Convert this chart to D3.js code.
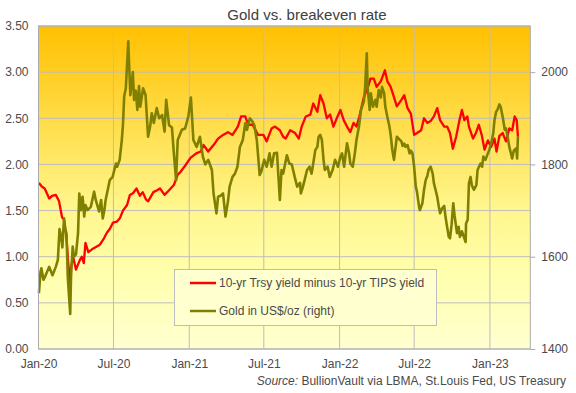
<!DOCTYPE html>
<html><head><meta charset="utf-8">
<script src="https://cdn.jsdelivr.net/npm/d3@7"></script>
<style>
body{margin:0;background:#fff;}
svg{display:block;font-family:"Liberation Sans",Arial,sans-serif;}
</style></head>
<body><svg id="c" width="576" height="393"></svg>
<script>
const title = "Gold vs. breakeven rate";
const leftTicks = [0,0.5,1,1.5,2,2.5,3,3.5];
const rightTicks = [1400,1600,1800,2000];
const xTickLabels = ["2020-01-01","2020-07-01","2021-01-01","2021-07-01","2022-01-01","2022-07-01","2023-01-01"];
const xDomain = ["2020-01-01","2023-04-09"];
const seriesNames = ["10-yr Trsy yield minus 10-yr TIPS yield","Gold in US$/oz (right)"];

const breakeven = [
["2020-01-02",1.80],["2020-01-09",1.76],["2020-01-16",1.74],["2020-01-21",1.69],["2020-01-27",1.63],
["2020-02-03",1.66],["2020-02-12",1.67],["2020-02-20",1.60],["2020-02-27",1.43],["2020-03-03",1.40],
["2020-03-09",1.20],["2020-03-13",0.95],["2020-03-17",0.69],["2020-03-20",0.89],["2020-03-25",1.00],
["2020-04-01",0.86],["2020-04-10",0.96],["2020-04-15",1.00],["2020-04-20",0.93],["2020-04-24",1.15],
["2020-05-01",1.05],["2020-05-13",1.09],["2020-05-29",1.13],["2020-06-08",1.20],["2020-06-15",1.26],
["2020-06-22",1.30],["2020-06-30",1.37],["2020-07-09",1.38],["2020-07-17",1.42],["2020-07-24",1.50],
["2020-08-03",1.56],["2020-08-10",1.67],["2020-08-18",1.69],["2020-08-26",1.74],["2020-09-03",1.66],
["2020-09-10",1.70],["2020-09-18",1.62],["2020-09-23",1.60],["2020-10-06",1.70],["2020-10-15",1.72],
["2020-10-22",1.74],["2020-11-02",1.67],["2020-11-13",1.72],["2020-11-25",1.78],["2020-12-04",1.89],
["2020-12-11",1.92],["2020-12-21",1.98],["2021-01-04",2.07],["2021-01-18",2.12],["2021-01-29",2.14],
["2021-02-05",2.21],["2021-02-16",2.14],["2021-03-01",2.21],["2021-03-12",2.28],["2021-03-24",2.32],
["2021-04-05",2.35],["2021-04-16",2.32],["2021-04-29",2.41],["2021-05-07",2.52],["2021-05-17",2.52],
["2021-05-24",2.43],["2021-06-04",2.43],["2021-06-17",2.32],["2021-06-30",2.32],["2021-07-08",2.25],
["2021-07-20",2.39],["2021-07-28",2.41],["2021-08-09",2.37],["2021-08-17",2.30],["2021-08-23",2.28],
["2021-09-03",2.37],["2021-09-15",2.34],["2021-09-24",2.28],["2021-10-01",2.41],["2021-10-11",2.52],
["2021-10-22",2.54],["2021-10-29",2.66],["2021-11-08",2.57],["2021-11-15",2.75],["2021-11-23",2.66],
["2021-12-01",2.50],["2021-12-09",2.54],["2021-12-17",2.41],["2021-12-27",2.52],["2022-01-03",2.59],
["2022-01-11",2.48],["2022-01-19",2.41],["2022-01-27",2.35],["2022-02-04",2.45],["2022-02-11",2.41],
["2022-02-18",2.52],["2022-03-01",2.73],["2022-03-11",2.84],["2022-03-17",2.93],["2022-03-25",2.93],
["2022-04-01",2.84],["2022-04-11",2.90],["2022-04-21",3.02],["2022-04-27",2.90],["2022-05-05",2.84],
["2022-05-13",2.73],["2022-05-20",2.63],["2022-05-31",2.70],["2022-06-07",2.75],["2022-06-15",2.61],
["2022-06-23",2.55],["2022-07-01",2.32],["2022-07-08",2.34],["2022-07-18",2.37],["2022-07-25",2.50],
["2022-08-02",2.45],["2022-08-10",2.47],["2022-08-18",2.52],["2022-08-26",2.61],["2022-09-02",2.48],
["2022-09-12",2.41],["2022-09-19",2.41],["2022-09-26",2.34],["2022-10-03",2.17],["2022-10-11",2.30],
["2022-10-19",2.48],["2022-10-25",2.59],["2022-10-31",2.48],["2022-11-07",2.52],["2022-11-11",2.41],
["2022-11-21",2.28],["2022-11-28",2.34],["2022-12-05",2.43],["2022-12-12",2.32],["2022-12-19",2.16],
["2022-12-27",2.26],["2023-01-04",2.19],["2023-01-12",2.28],["2023-01-17",2.14],["2023-01-24",2.31],
["2023-02-01",2.34],["2023-02-09",2.25],["2023-02-17",2.39],["2023-02-24",2.37],["2023-03-02",2.52],
["2023-03-07",2.48],["2023-03-10",2.30]
];

const gold = [
["2020-01-02",1521],["2020-01-06",1568],["2020-01-08",1575],["2020-01-13",1550],["2020-01-17",1557],
["2020-01-27",1578],["2020-02-04",1560],["2020-02-12",1578],["2020-02-17",1593],["2020-02-21",1660],
["2020-02-25",1643],["2020-02-28",1620],["2020-03-03",1683],["2020-03-06",1660],["2020-03-09",1650],
["2020-03-12",1557],["2020-03-18",1476],["2020-03-20",1557],["2020-03-24",1622],["2020-03-27",1600],
["2020-04-01",1605],["2020-04-06",1651],["2020-04-09",1737],["2020-04-13",1701],["2020-04-17",1730],
["2020-04-21",1687],["2020-04-24",1712],["2020-04-29",1701],["2020-05-07",1708],["2020-05-15",1741],
["2020-05-19",1723],["2020-05-27",1698],["2020-06-01",1723],["2020-06-05",1683],["2020-06-09",1701],
["2020-06-12",1723],["2020-06-22",1766],["2020-06-29",1773],["2020-07-07",1802],["2020-07-10",1795],
["2020-07-16",1810],["2020-07-21",1850],["2020-07-24",1885],["2020-07-27",1947],["2020-07-31",1965],
["2020-08-06",2067],["2020-08-07",2041],["2020-08-11",1950],["2020-08-17",2000],["2020-08-20",1940],
["2020-08-24",1960],["2020-08-28",1918],["2020-09-01",1970],["2020-09-04",1925],["2020-09-11",1965],
["2020-09-17",1950],["2020-09-23",1860],["2020-09-28",1882],["2020-10-02",1911],["2020-10-07",1890],
["2020-10-14",1922],["2020-10-20",1900],["2020-10-27",1907],["2020-11-02",1871],["2020-11-06",1940],
["2020-11-13",1885],["2020-11-20",1880],["2020-11-24",1831],["2020-11-30",1766],["2020-12-04",1853],
["2020-12-14",1875],["2020-12-22",1878],["2020-12-30",1905],["2021-01-05",1945],["2021-01-11",1853],
["2021-01-19",1838],["2021-01-27",1860],["2021-02-03",1817],["2021-02-09",1800],["2021-02-16",1810],
["2021-02-25",1788],["2021-03-01",1737],["2021-03-08",1694],["2021-03-12",1730],["2021-03-18",1732],
["2021-03-24",1737],["2021-03-30",1687],["2021-04-05",1720],["2021-04-09",1752],["2021-04-16",1773],
["2021-04-22",1780],["2021-04-28",1795],["2021-05-04",1838],["2021-05-11",1853],["2021-05-17",1889],
["2021-05-21",1875],["2021-05-28",1900],["2021-06-02",1895],["2021-06-08",1885],["2021-06-14",1853],
["2021-06-21",1777],["2021-06-25",1785],["2021-07-02",1810],["2021-07-08",1795],["2021-07-15",1824],
["2021-07-20",1795],["2021-07-26",1824],["2021-08-02",1825],["2021-08-09",1723],["2021-08-13",1788],
["2021-08-17",1780],["2021-08-26",1820],["2021-09-01",1802],["2021-09-07",1800],["2021-09-14",1773],
["2021-09-20",1752],["2021-09-27",1760],["2021-09-29",1737],["2021-10-04",1752],["2021-10-08",1766],
["2021-10-14",1788],["2021-10-20",1795],["2021-10-25",1780],["2021-10-29",1802],["2021-11-03",1831],
["2021-11-08",1838],["2021-11-11",1860],["2021-11-15",1864],["2021-11-19",1853],["2021-11-23",1810],
["2021-11-26",1788],["2021-12-03",1795],["2021-12-08",1773],["2021-12-15",1788],["2021-12-21",1810],
["2021-12-28",1795],["2022-01-03",1817],["2022-01-07",1824],["2022-01-12",1795],["2022-01-19",1846],
["2022-01-24",1824],["2022-01-27",1802],["2022-02-02",1795],["2022-02-07",1824],["2022-02-11",1853],
["2022-02-17",1882],["2022-02-22",1918],["2022-03-01",1936],["2022-03-04",1968],["2022-03-08",2041],
["2022-03-10",1968],["2022-03-15",1918],["2022-03-18",1954],["2022-03-23",1925],["2022-03-29",1940],
["2022-04-01",1925],["2022-04-06",1961],["2022-04-11",1945],["2022-04-14",1968],["2022-04-19",1955],
["2022-04-22",1925],["2022-04-27",1903],["2022-05-02",1882],["2022-05-05",1864],["2022-05-09",1831],
["2022-05-13",1810],["2022-05-17",1838],["2022-05-20",1860],["2022-05-31",1850],["2022-06-03",1840],
["2022-06-07",1845],["2022-06-10",1838],["2022-06-15",1842],["2022-06-20",1824],["2022-06-23",1830],
["2022-06-27",1824],["2022-07-01",1795],["2022-07-05",1752],["2022-07-08",1740],["2022-07-13",1708],
["2022-07-15",1701],["2022-07-21",1716],["2022-07-25",1745],["2022-07-29",1766],["2022-08-02",1775],
["2022-08-05",1788],["2022-08-10",1795],["2022-08-15",1780],["2022-08-18",1759],["2022-08-22",1745],
["2022-08-26",1730],["2022-08-30",1708],["2022-09-02",1694],["2022-09-07",1705],["2022-09-12",1710],
["2022-09-15",1687],["2022-09-19",1665],["2022-09-23",1643],["2022-09-26",1640],["2022-09-30",1670],
["2022-10-04",1716],["2022-10-07",1690],["2022-10-13",1651],["2022-10-17",1665],["2022-10-20",1643],
["2022-10-25",1655],["2022-11-03",1632],["2022-11-04",1672],["2022-11-08",1680],["2022-11-11",1759],
["2022-11-15",1773],["2022-11-18",1755],["2022-11-23",1745],["2022-11-29",1755],["2022-12-02",1788],
["2022-12-09",1802],["2022-12-13",1795],["2022-12-16",1817],["2022-12-21",1810],["2022-12-27",1824],
["2022-12-30",1830],["2023-01-04",1846],["2023-01-09",1867],["2023-01-12",1896],["2023-01-16",1914],
["2023-01-20",1920],["2023-01-24",1930],["2023-01-27",1925],["2023-02-01",1903],["2023-02-06",1875],
["2023-02-09",1878],["2023-02-13",1860],["2023-02-17",1838],["2023-02-21",1824],["2023-02-24",1813],
["2023-02-28",1830],["2023-03-06",1835],["2023-03-08",1813],["2023-03-10",1860]
];

const parse = d3.timeParse("%Y-%m-%d");
const W = 576, H = 393;
const m = {l:38.5, r:530.3, t:26, b:349};
const svg = d3.select("#c");

const x = d3.scaleTime().domain(xDomain.map(parse)).range([m.l, m.r]);
const yL = d3.scaleLinear().domain([0,3.5]).range([m.b, m.t]);
const yR = d3.scaleLinear().domain([1400,2100]).range([m.b, m.t]);

const defs = svg.append("defs");
const grad = defs.append("linearGradient").attr("id","bg").attr("x1",0).attr("y1",0).attr("x2",0).attr("y2",1);
[[0,"#FFC000"],[0.3,"#FFDD4A"],[0.55,"#FFF58A"],[0.78,"#FFFFAE"],[1,"#FFFFD2"]].forEach(s=>
  grad.append("stop").attr("offset",s[0]).attr("stop-color",s[1]));

svg.append("rect").attr("x",m.l).attr("y",m.t).attr("width",m.r-m.l).attr("height",m.b-m.t).attr("fill","url(#bg)");

const gridColor = "#BDBDBD";
const g = svg.append("g");
g.selectAll(".hg").data(leftTicks).join("line")
  .attr("x1",m.l).attr("x2",m.r).attr("y1",d=>yL(d)).attr("y2",d=>yL(d))
  .attr("stroke",gridColor).attr("stroke-width",1);
g.selectAll(".vg").data(xTickLabels.map(parse)).join("line")
  .attr("x1",d=>x(d)).attr("x2",d=>x(d)).attr("y1",m.t).attr("y2",m.b)
  .attr("stroke",gridColor).attr("stroke-width",1);

const lineR = d3.line().x(d=>x(parse(d[0]))).y(d=>yL(d[1]));
const lineG = d3.line().x(d=>x(parse(d[0]))).y(d=>yR(d[1]));
svg.append("path").attr("d",lineR(breakeven)).attr("fill","none").attr("stroke","#FF0000").attr("stroke-width",2.3).attr("stroke-linejoin","round");
svg.append("path").attr("d",lineG(gold)).attr("fill","none").attr("stroke","#808000").attr("stroke-width",2.6).attr("stroke-linejoin","round");

svg.append("rect").attr("x",m.l).attr("y",m.t).attr("width",m.r-m.l).attr("height",m.b-m.t)
  .attr("fill","none").attr("stroke","#ABABAB").attr("stroke-width",1);

const txtColor = "#4A4A4A";
const axL = svg.append("g").attr("transform",`translate(${m.l},0)`)
  .call(d3.axisLeft(yL).tickValues(leftTicks).tickFormat(d3.format(".2f")).tickSize(0).tickPadding(10));
const axR = svg.append("g").attr("transform",`translate(${m.r},0)`)
  .call(d3.axisRight(yR).tickValues(rightTicks).tickFormat(d3.format("d")).tickSize(5).tickPadding(6));
const axB = svg.append("g").attr("transform",`translate(0,${m.b})`)
  .call(d3.axisBottom(x).tickValues(xTickLabels.map(parse)).tickFormat(d3.timeFormat("%b-%y")).tickSize(0).tickPadding(10));
[axL,axR,axB].forEach(a=>{
  a.select(".domain").remove();
  a.selectAll("text").attr("font-size",12).attr("fill",txtColor).attr("font-family","Liberation Sans, Arial, sans-serif");
  a.selectAll("line").attr("stroke","#ABABAB");
});

svg.append("text").attr("x",307).attr("y",20).attr("text-anchor","middle")
  .attr("font-size",15).attr("fill","#404040").text(title);

const src = svg.append("text").attr("x",566).attr("y",385).attr("text-anchor","end").attr("font-size",12).attr("fill",txtColor);
src.append("tspan").attr("font-style","italic").text("Source:");
src.append("tspan").text(" BullionVault via LBMA, St.Louis Fed, US Treasury");

const lg = svg.append("g");
lg.append("rect").attr("x",174.5).attr("y",269.5).attr("width",262).attr("height",56)
  .attr("fill","#FFFFCF").attr("stroke","#BDBDBD");
const lcol = ["#FF0000","#808000"];
seriesNames.forEach((n,i)=>{
  const yy = 283 + i*28;
  lg.append("line").attr("x1",190).attr("x2",216).attr("y1",yy).attr("y2",yy).attr("stroke",lcol[i]).attr("stroke-width",2.5);
  lg.append("text").attr("x",219).attr("y",yy+4).attr("font-size",12).attr("fill",txtColor).text(n);
});
</script></body></html>
